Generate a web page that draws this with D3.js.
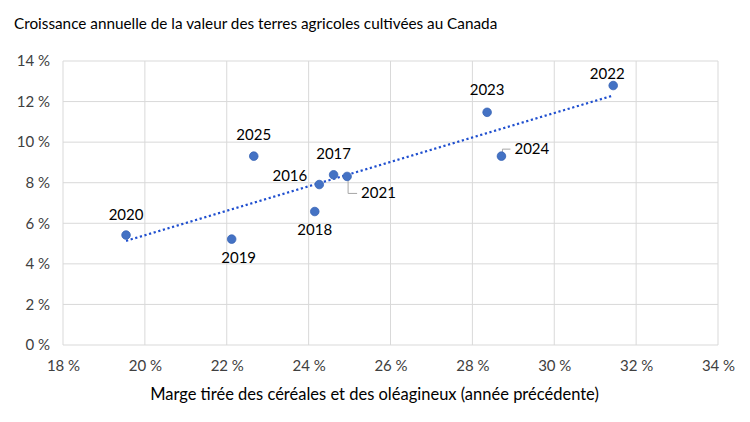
<!DOCTYPE html>
<html>
<head>
<meta charset="utf-8">
<title>Terres agricoles</title>
<script src="https://cdnjs.cloudflare.com/ajax/libs/d3/7.8.5/d3.min.js"></script>
<style>
  body { margin: 0; background: #fff; }
  svg { display: block; font-family: Lato, "Open Sans", sans-serif; }
</style>
</head>
<body>
<svg id="chart" width="750" height="422"></svg>
<script>
// données (en %)
const years = [2016, 2017, 2018, 2019, 2020, 2021, 2022, 2023, 2024, 2025];
const margin = [24.26, 24.61, 24.15, 22.12, 19.54, 24.94, 31.44, 28.36, 28.71, 22.66];
const growth = [7.91, 8.39, 6.58, 5.22, 5.42, 8.31, 12.79, 11.47, 9.31, 9.31];
const xTicks = [18, 20, 22, 24, 26, 28, 30, 32, 34];
const yTicks = [0, 2, 4, 6, 8, 10, 12, 14];

// where each label sits relative to its point
const labelPos = {
  2016: { dx: -12, dy: -4, anchor: 'end' },
  2017: { dx: 0, dy: -16, anchor: 'middle' },
  2018: { dx: 0, dy: 23, anchor: 'middle' },
  2019: { dx: 7, dy: 24, anchor: 'middle' },
  2020: { dx: 0, dy: -15, anchor: 'middle' },
  2021: { dx: 14, dy: 22, anchor: 'start', leader: true },
  2022: { dx: -6, dy: -7, anchor: 'middle' },
  2023: { dx: 0, dy: -17, anchor: 'middle' },
  2024: { dx: 13, dy: -2, anchor: 'start', leader: true },
  2025: { dx: 0, dy: -16, anchor: 'middle' }
};

const pts = years.map((y, i) => ({ year: y, x: margin[i], y: growth[i] }));

const svg = d3.select('#chart');
const pLeft = 63, pRight = 718, pTop = 61, pBottom = 345;

const x = d3.scaleLinear().domain([18, 34]).range([pLeft, pRight]);
const y = d3.scaleLinear().domain([0, 14]).range([pBottom, pTop]);
const fmt = d => d + '\u202f%';

svg.append('rect').attr('width', 750).attr('height', 422).attr('fill', '#fff');

svg.append('text')
  .attr('x', 14).attr('y', 29)
  .attr('font-size', 15.3).attr('fill', '#000')
  .text('Croissance annuelle de la valeur des terres agricoles cultivées au Canada');

// grid
svg.append('g').selectAll('line').data(xTicks).join('line')
  .attr('x1', d => x(d)).attr('x2', d => x(d))
  .attr('y1', pTop).attr('y2', pBottom)
  .attr('stroke', '#d9d9d9').attr('stroke-width', 1);
svg.append('g').selectAll('line').data(yTicks).join('line')
  .attr('y1', d => y(d)).attr('y2', d => y(d))
  .attr('x1', pLeft).attr('x2', pRight)
  .attr('stroke', '#d9d9d9').attr('stroke-width', 1);

// axis labels
const xAxis = svg.append('g').attr('transform', `translate(0,${pBottom})`)
  .call(d3.axisBottom(x).tickValues(xTicks).tickFormat(fmt).tickSize(0).tickPadding(15));
const yAxis = svg.append('g').attr('transform', `translate(${pLeft},0)`)
  .call(d3.axisLeft(y).tickValues(yTicks).tickFormat(fmt).tickSize(0).tickPadding(13));
[xAxis, yAxis].forEach(a => {
  a.select('.domain').remove();
  a.selectAll('text').attr('font-size', 15).attr('fill', '#404040').style('font-family', 'Lato, sans-serif');
});

svg.append('text')
  .attr('x', (pLeft + pRight) / 2 - 16).attr('y', 400)
  .attr('text-anchor', 'middle').attr('font-size', 16.5).attr('fill', '#000')
  .text('Marge tirée des céréales et des oléagineux (année précédente)');

// tendance linéaire (moindres carrés)
const mx = d3.mean(pts, d => d.x), my = d3.mean(pts, d => d.y);
const slope = d3.sum(pts, d => (d.x - mx) * (d.y - my)) / d3.sum(pts, d => (d.x - mx) ** 2);
const icpt = my - slope * mx;
const ext = d3.extent(pts, d => d.x);
svg.append('path')
  .datum(ext.map(v => [v, icpt + slope * v]))
  .attr('d', d3.line().x(d => x(d[0])).y(d => y(d[1])))
  .attr('fill', 'none').attr('stroke', '#1f4fcf').attr('stroke-width', 2.2)
  .attr('stroke-dasharray', '2.2,2.6');

// leader lines
svg.append('g').selectAll('path').data(pts.filter(d => labelPos[d.year].leader)).join('path')
  .attr('d', d => {
    const px = x(d.x) + 1, py = y(d.y), p = labelPos[d.year];
    const ty = py + p.dy - 5;
    return `M${px},${py + (p.dy > 0 ? 4 : -4)}V${ty}H${x(d.x) + p.dx - 4}`;
  })
  .attr('fill', 'none').attr('stroke', '#a6a6a6').attr('stroke-width', 1);

// points
svg.append('g').selectAll('circle').data(pts).join('circle')
  .attr('cx', d => x(d.x)).attr('cy', d => y(d.y)).attr('r', 4.3)
  .attr('fill', '#4472c4').attr('stroke', '#3763b5').attr('stroke-width', 0.8);

// labels
svg.append('g').selectAll('text').data(pts).join('text')
  .attr('x', d => x(d.x) + labelPos[d.year].dx)
  .attr('y', d => y(d.y) + labelPos[d.year].dy)
  .attr('text-anchor', d => labelPos[d.year].anchor)
  .attr('font-size', 15).attr('fill', '#000')
  .text(d => d.year);
</script>
</body>
</html>
